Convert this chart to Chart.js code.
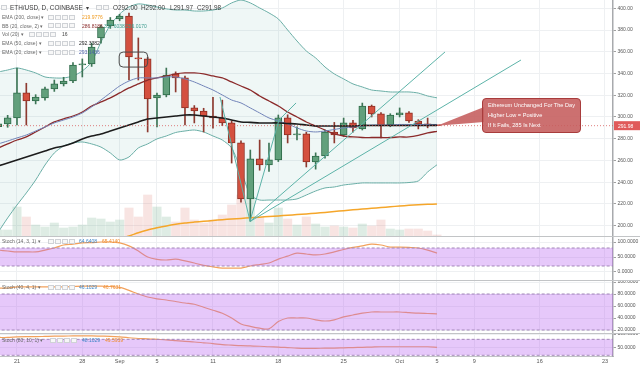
<!DOCTYPE html>
<html>
<head>
<meta charset="utf-8">
<title>ETH/USD, D, COINBASE</title>
<script src="https://cdn.jsdelivr.net/npm/chart.js@4.4.1/dist/chart.umd.min.js"></script>
<style>
  html, body { margin: 0; padding: 0; background: #fff; }
  #wrap { position: relative; width: 640px; height: 366px; overflow: hidden;
          font-family: "Liberation Sans", Arial, sans-serif; }
  #wrap canvas { position: absolute; left: 0; }
  .sep { position: absolute; left: 0; width: 640px; height: 1px; background: #c2c4c6; }
  .t { position: absolute; white-space: nowrap; font-size: 5px; line-height: 6px; color: #6b6b6b; }
  .h { font-size: 6.4px; line-height: 7px; color: #3c3c3c; }
  .b { position: absolute; width: 6px; height: 5px; box-sizing: border-box; border: 1px solid #cfd2d6; background: #f7f7f7; }
  #note { position: absolute; left: 482px; top: 98px; width: 99px; height: 35px; box-sizing: border-box;
          background: rgba(197, 92, 92, 0.88); border: 1px solid #a83c3c; border-radius: 4px;
          color: #fff; font-size: 5.6px; line-height: 10px; padding: 1px 0 0 5px; white-space: nowrap; }
</style>
</head>
<body>
<div id="wrap">
  <canvas id="cMain" width="640" height="236" style="top:0"></canvas>
  <div class="sep" style="top:236px"></div>
  <canvas id="cSt1" width="640" height="43" style="top:237px"></canvas>
  <div class="sep" style="top:280px"></div>
  <canvas id="cSt2" width="640" height="52" style="top:281px"></canvas>
  <div class="sep" style="top:333px"></div>
  <canvas id="cSt3" width="640" height="32" style="top:334px"></canvas>

  <!-- header -->
  <div class="b" style="left:1px;top:5px"></div>
  <div class="t h" style="left:10px;top:4px">ETH/USD, D, COINBASE</div>
  <div class="t h" style="left:86px;top:4px">▾</div>
  <div class="b" style="left:96px;top:5px"></div>
  <div class="b" style="left:103px;top:5px"></div>
  <div class="t h" style="left:113px;top:4px">O292.00</div>
  <div class="t h" style="left:141px;top:4px">H292.00</div>
  <div class="t h" style="left:170px;top:4px">L291.97</div>
  <div class="t h" style="left:197px;top:4px">C291.98</div>

  <div class="t" style="left:2px;top:14px">EMA (200, close) ▾</div>
  <div class="b" style="left:48px;top:14.5px"></div><div class="b" style="left:55px;top:14.5px"></div><div class="b" style="left:62px;top:14.5px"></div><div class="b" style="left:69px;top:14.5px"></div>
  <div class="t" style="left:82px;top:14px;color:#f09a1e">219.9776</div>

  <div class="t" style="left:2px;top:22.5px">BB (20, close, 2) ▾</div>
  <div class="b" style="left:48px;top:23px"></div><div class="b" style="left:55px;top:23px"></div><div class="b" style="left:62px;top:23px"></div><div class="b" style="left:69px;top:23px"></div>
  <div class="t" style="left:82px;top:22.5px;color:#8b2c2c">286.8186</div>
  <div class="t" style="left:104px;top:22.5px;color:#3a9a8c">317.6038</div>
  <div class="t" style="left:126px;top:22.5px;color:#3a9a8c">256.0170</div>

  <div class="t" style="left:2px;top:31px">Vol (20) ▾</div>
  <div class="b" style="left:29px;top:31.5px"></div><div class="b" style="left:36px;top:31.5px"></div><div class="b" style="left:43px;top:31.5px"></div><div class="b" style="left:50px;top:31.5px"></div>
  <div class="t" style="left:62px;top:31px;color:#444">16</div>

  <div class="t" style="left:2px;top:40px">EMA (50, close) ▾</div>
  <div class="b" style="left:48px;top:40.5px"></div><div class="b" style="left:55px;top:40.5px"></div><div class="b" style="left:62px;top:40.5px"></div><div class="b" style="left:69px;top:40.5px"></div>
  <div class="t" style="left:79px;top:40px;color:#222">292.3382</div>

  <div class="t" style="left:2px;top:49px">EMA (20, close) ▾</div>
  <div class="b" style="left:48px;top:49.5px"></div><div class="b" style="left:55px;top:49.5px"></div><div class="b" style="left:62px;top:49.5px"></div><div class="b" style="left:69px;top:49.5px"></div>
  <div class="t" style="left:79px;top:49px;color:#4a5fa8">293.1436</div>

  <!-- stoch legends -->
  <div class="t" style="left:2px;top:238px">Stoch (14, 3, 1) ▾</div>
  <div class="b" style="left:48px;top:238.5px"></div><div class="b" style="left:55px;top:238.5px"></div><div class="b" style="left:62px;top:238.5px"></div><div class="b" style="left:69px;top:238.5px"></div>
  <div class="t" style="left:79px;top:238px;color:#3d85c6">64.6408</div>
  <div class="t" style="left:102px;top:238px;color:#f08c2c">65.4140</div>

  <div class="t" style="left:2px;top:284px">Stoch (40, 4, 1) ▾</div>
  <div class="b" style="left:48px;top:284.5px"></div><div class="b" style="left:55px;top:284.5px"></div><div class="b" style="left:62px;top:284.5px"></div><div class="b" style="left:69px;top:284.5px"></div>
  <div class="t" style="left:79px;top:284px;color:#3d85c6">46.1029</div>
  <div class="t" style="left:103px;top:284px;color:#f08c2c">46.7631</div>

  <div class="t" style="left:2px;top:337px">Stoch (80, 10, 1) ▾</div>
  <div class="b" style="left:50px;top:337.5px"></div><div class="b" style="left:57px;top:337.5px"></div><div class="b" style="left:64px;top:337.5px"></div><div class="b" style="left:71px;top:337.5px"></div>
  <div class="t" style="left:82px;top:337px;color:#3d85c6">48.1029</div>
  <div class="t" style="left:105px;top:337px;color:#f08c2c">49.5939</div>

  <div id="note">Ethereum Unchanged For The Day<br>Higher Low = Positive<br>If It Fails, 285 Is Next</div>
</div>

<script>
// daily candles, 2017-08-19 .. 2017-10-05
const dates = ['Aug 19','Aug 20','Aug 21','Aug 22','Aug 23','Aug 24','Aug 25','Aug 26','Aug 27','Aug 28',
  'Aug 29','Aug 30','Aug 31','Sep 1','Sep 2','Sep 3','Sep 4','Sep 5','Sep 6','Sep 7',
  'Sep 8','Sep 9','Sep 10','Sep 11','Sep 12','Sep 13','Sep 14','Sep 15','Sep 16','Sep 17',
  'Sep 18','Sep 19','Sep 20','Sep 21','Sep 22','Sep 23','Sep 24','Sep 25','Sep 26','Sep 27',
  'Sep 28','Sep 29','Sep 30','Oct 1','Oct 2','Oct 3','Oct 4','Oct 5'];

const open = [291.0,293.6,299.1,322.1,314.7,317.5,325.8,330.4,333.1,347.8,348.8,372.7,383.7,390.2,392.9,354.3,
  353.4,317.5,320.2,339.6,335.9,308.3,305.5,300.9,299.1,294.5,276.1,224.5,261.4,255.9,260.5,299.1,
  283.4,284.4,258.6,264.1,286.2,283.4,294.5,289.0,310.1,302.8,292.6,301.8,303.7,296.3,293.6,292.00];
const high = [296.0,301.5,345.0,331.0,320.5,327.5,334.0,336.5,350.0,353.4,368.0,384.5,391.5,394.5,395.5,372.7,
  355.0,322.0,345.0,341.5,337.5,310.5,308.0,318.0,315.5,296.5,278.0,269.6,278.8,276.0,301.8,302.0,
  291.0,286.0,267.0,288.0,295.0,299.0,297.0,312.8,311.0,304.0,303.0,308.3,305.0,297.5,299.0,292.00];
const low = [287.5,290.5,292.6,292.6,312.0,315.5,323.5,328.5,331.5,336.8,346.5,368.0,381.5,388.5,334.0,334.0,
  286.2,290.8,318.5,323.0,292.6,294.5,286.2,289.8,292.0,257.6,221.7,204.0,251.0,250.0,259.0,276.1,
  279.0,254.0,252.0,262.0,276.1,282.0,286.0,288.0,300.0,280.7,291.0,300.0,295.0,289.0,290.0,291.97];
const close = [293.6,299.1,322.1,314.7,318.4,325.8,330.4,333.1,347.8,348.8,364.4,382.8,389.2,392.9,355.2,353.4,
  316.6,320.2,338.6,335.9,308.3,305.5,300.9,299.1,294.5,276.1,224.5,261.4,255.9,260.5,299.1,283.4,
  284.4,258.6,264.1,286.2,283.4,294.5,289.9,310.1,302.8,291.7,301.8,303.7,296.3,293.6,292.0,291.98];
const volume = [60,60,290,190,110,90,130,80,90,110,180,170,140,160,280,190,410,290,190,140,280,160,130,160,
  210,310,410,390,190,130,280,170,110,190,120,90,100,90,80,120,100,160,70,60,70,70,50,10];

const bbUpper = [341.4,343.2,345.1,343.2,340.5,336.8,335.9,335.9,337.7,342.3,350.6,369.0,384.6,394.7,401.2,404.0,
  403.0,401.2,399.4,398.4,398.4,397.5,397.5,398.4,400.3,404.9,407.6,404.9,400.3,395.7,390.2,380.0,
  369.9,360.7,354.3,346.0,339.6,335.0,330.4,327.6,324.8,323.9,323.0,323.0,323.0,322.0,319.3,317.6];
const bbBasis = [271.5,275.2,278.8,281.6,286.2,290.8,295.4,298.2,300.9,304.6,310.1,313.8,317.5,322.1,326.7,330.4,
  334.0,335.9,337.7,339.6,340.5,340.5,339.6,337.7,335.9,332.2,328.5,324.8,319.3,314.7,310.1,304.6,
  300.0,295.4,291.7,288.0,284.4,282.5,281.6,281.1,281.1,281.1,281.1,281.6,281.6,283.0,285.3,286.8];
const bbLower = [194.2,207.1,219.0,230.1,242.0,255.8,266.9,273.3,276.1,277.0,275.2,272.3,266.9,260.4,263.2,271.5,
  275.2,279.8,282.5,285.7,287.1,288.0,286.2,282.5,278.8,271.5,251.2,228.2,223.6,223.6,223.6,223.6,
  224.6,228.2,231.9,234.7,235.6,237.4,238.4,239.3,239.3,239.3,239.3,239.3,239.7,241.1,249.4,256.0];
const ema20 = [275.2,277.9,280.7,283.4,287.1,290.8,294.5,297.2,300.0,303.7,309.2,315.6,322.1,328.5,333.1,335.9,
  335.9,335.9,336.8,336.8,335.0,332.2,328.5,324.8,320.2,315.6,312.9,308.3,303.7,299.1,296.3,293.6,
  289.9,287.1,286.2,287.1,288.5,289.9,290.8,291.7,292.6,292.6,292.6,293.1,293.1,293.1,293.1,293.1];
const ema50 = [254.9,257.7,260.4,263.2,266.0,268.7,271.5,273.3,276.1,279.7,282.5,284.4,287.1,289.9,292.6,295.4,
  298.2,299.1,300.0,300.9,301.8,301.8,300.9,300.0,299.1,297.2,295.4,295.0,294.5,294.5,294.5,294.0,
  293.6,292.6,291.7,291.7,291.7,291.7,291.7,292.2,292.2,292.2,292.2,292.2,292.2,292.2,292.2,292.3];
const ema200 = [null,null,null,null,null,null,null,null,null,null,null,null,null,188.0,190.5,193.5,
  196.0,198.0,199.8,201.3,202.5,203.3,204.0,204.8,205.5,206.1,206.7,207.2,207.8,208.4,209.0,209.6,
  210.2,210.8,211.5,212.2,213.0,213.8,214.6,215.3,216.0,216.7,217.4,218.1,218.7,219.2,219.6,220.0];

const stoch14 = [73,70,67,67,67,73,80,90,93,97,98,100,100,97,87,70,50,42,40,43,37,30,22,17,
  13,13,13,20,25,30,43,53,63,60,57,60,67,75,82,87,93,90,83,83,82,80,73,63];
const stoch40 = [90,90,92,92,92,92,92,92,92.5,93,93,93,92.5,91,86,80,75,72,70,67.5,65,63,58,53,
  48,40,30,26,23,22,34,40,40,40,37,35,37,42,45,48,50,50,50,50,49,48,47.5,47];
const stoch80 = [87,87,89,90,90,91,92,92,93,93,93,92,91,89,86,83,82,80,78,75,72,70,67,64,
  60,58,56,55,54,52,51,49,47,46,46,47,47,48,49,50,51,52,52,52,52,52,52,50];
const bandHigh = 80, bandLow = 20;

// drawn trend lines: [day index, price]
const trendA = [[27, 204], [47.86, 359.8]];
const trendB = [[27, 204], [56.0, 352.4]];
const trendV = [[23.75, 318.4], [26.97, 204.3], [30.07, 297.2], [31.9, 312.9]];
const boxMark = { x0: 12.95, x1: 16.0, top: 359.7, bottom: 345.9 };

const tickDays = [2, 9, 13, 17, 23, 30, 37, 43, 47, 51, 58, 65];
const tickLabels = ['21', '28', 'Sep', '5', '11', '18', '25', 'Oct', '5', '9', '16', '23'];
const priceTicks = [200, 220, 240, 260, 280, 300, 320, 340, 360, 380, 400];

Chart.defaults.font.family = '"Liberation Sans", Arial, sans-serif';
Chart.defaults.color = '#555';
Chart.defaults.animation = false;
Chart.defaults.events = [];
Chart.defaults.plugins.legend.display = false;
Chart.defaults.plugins.tooltip.enabled = false;

const X_MIN = 0.18, X_MAX = 65.86;
const GRID = '#eef0f2';

const idx = dates.map((_, i) => i);
const pts = arr => arr.map((v, i) => ({ x: i, y: v }));
const pairPts = arr => arr.map(p => ({ x: p[0], y: p[1] }));
const isUp = i => close[i] >= open[i];

function noPad(s) {
    s.paddingTop = 0; s.paddingBottom = 0; s.paddingLeft = 0; s.paddingRight = 0;
}

function xScale(showLabels) {
    return {
        type: 'linear', min: X_MIN, max: X_MAX, offset: false,
        grid: { color: GRID, drawTicks: false, offset: false },
        border: { display: showLabels, color: '#c2c4c6' },
        ticks: {
            display: showLabels, autoSkip: false, maxRotation: 0, padding: 2,
            font: { size: 5.5 }, color: '#555',
            callback: v => { const k = tickDays.indexOf(v); return k < 0 ? '' : tickLabels[k]; }
        },
        afterBuildTicks: s => { s.ticks = tickDays.map(v => ({ value: v })); },
        afterFit: s => { s.height = showLabels ? 10 : 0; noPad(s); }
    };
}

function yScale(min, max, ticks, digits) {
    return {
        position: 'right', min: min, max: max,
        grid: { color: GRID, tickLength: 3, tickColor: '#a0a0a0' },
        border: { color: '#a8aaad', width: 1.5 },
        ticks: { autoSkip: false, padding: 1.5, font: { size: 5 }, color: '#555', callback: v => v.toFixed(digits) },
        afterBuildTicks: s => { s.ticks = ticks.map(v => ({ value: v })); },
        afterFit: s => { s.width = 27; noPad(s); }
    };
}

function lineSet(arr, color, width, order) {
    return { type: 'line', data: pts(arr), borderColor: color, borderWidth: width,
             pointRadius: 0, tension: 0.25, fill: false, order: order };
}

const noteFill = 'rgba(197, 92, 92, 0.88)';

const overlay = {
    id: 'overlay',
    afterDatasetsDraw(chart) {
        const { ctx, chartArea, scales } = chart;
        const x = scales.x, y = scales.y;
        const last = close.length - 1;
        const py = y.getPixelForValue(close[last]);
        ctx.save();
        // last price line
        ctx.strokeStyle = 'rgba(214, 84, 84, 0.75)';
        ctx.lineWidth = 1;
        ctx.setLineDash([1, 2]);
        ctx.beginPath();
        ctx.moveTo(chartArea.left, py);
        ctx.lineTo(chartArea.right, py);
        ctx.stroke();
        ctx.setLineDash([]);
        // rounded mark around the Sep 2-3 top
        const bx0 = x.getPixelForValue(boxMark.x0), bx1 = x.getPixelForValue(boxMark.x1);
        const by0 = y.getPixelForValue(boxMark.top), by1 = y.getPixelForValue(boxMark.bottom);
        ctx.strokeStyle = '#4a4a4a';
        ctx.lineWidth = 1;
        ctx.beginPath();
        ctx.roundRect(bx0, by0, bx1 - bx0, by1 - by0, 4);
        ctx.stroke();
        // callout tail to the last candle
        const ax = x.getPixelForValue(last);
        ctx.fillStyle = noteFill;
        ctx.beginPath();
        ctx.moveTo(ax, py);
        ctx.lineTo(484, 107);
        ctx.lineTo(484, 122);
        ctx.closePath();
        ctx.fill();
        ctx.restore();
    },
    afterDraw(chart) {
        const { ctx, chartArea, scales } = chart;
        const v = close[close.length - 1];
        const py = scales.y.getPixelForValue(v);
        ctx.save();
        ctx.fillStyle = '#e05a5a';
        ctx.fillRect(chartArea.right + 1, py - 4.5, 26, 9);
        ctx.fillStyle = '#fff';
        ctx.font = '5px "Liberation Sans", Arial, sans-serif';
        ctx.textBaseline = 'middle';
        ctx.fillText(v.toFixed(2), chartArea.right + 5, py + 0.5);
        ctx.restore();
    }
};

new Chart(document.getElementById('cMain'), {
    type: 'bar',
    data: {
        datasets: [
            { type: 'bar', yAxisID: 'yVol', grouped: false, order: 10, barThickness: 8.4,
              data: volume.map((v, i) => ({ x: i, y: v })),
              backgroundColor: idx.map(i => isUp(i) ? 'rgba(107,170,130,0.22)' : 'rgba(214,96,84,0.17)') },
            { type: 'line', data: pts(bbUpper), borderColor: '#6aaea6', borderWidth: 1, pointRadius: 0,
              tension: 0.25, fill: '+1', backgroundColor: 'rgba(96,178,170,0.1)', order: 9 },
            { type: 'line', data: pts(bbLower), borderColor: '#6aaea6', borderWidth: 1, pointRadius: 0,
              tension: 0.25, fill: false, order: 8 },
            lineSet(ema200, '#f5a62a', 1.5, 7),
            { type: 'bar', grouped: false, order: 6, barThickness: 1,
              data: idx.map(i => ({ x: i, y: [low[i], high[i]] })),
              backgroundColor: idx.map(i => isUp(i) ? '#3d7556' : '#8e3a30') },
            { type: 'bar', grouped: false, order: 5, barThickness: 7, minBarLength: 1,
              borderWidth: 1, borderSkipped: false,
              data: idx.map(i => ({ x: i, y: [open[i], close[i]] })),
              backgroundColor: idx.map(i => isUp(i) ? '#62a07c' : '#d4503f'),
              borderColor: idx.map(i => isUp(i) ? '#2f6b4a' : '#8f2f24') },
            lineSet(bbBasis, '#8b2a2a', 1.3, 4),
            lineSet(ema20, '#7183b8', 1, 3),
            lineSet(ema50, '#1c1c1c', 1.6, 2),
            { type: 'line', data: pairPts(trendA), borderColor: '#5cb3a8', borderWidth: 1, pointRadius: 0, fill: false, order: 1 },
            { type: 'line', data: pairPts(trendB), borderColor: '#5cb3a8', borderWidth: 1, pointRadius: 0, fill: false, order: 1 },
            { type: 'line', data: pairPts(trendV), borderColor: '#5cb3a8', borderWidth: 1, pointRadius: 0, fill: false, order: 1 }
        ]
    },
    options: {
        responsive: false,
        layout: { padding: 0 },
        scales: {
            x: xScale(false),
            y: yScale(190.5, 407.6, priceTicks, 2),
            yVol: { display: false, min: 0, max: 2360 }
        }
    },
    plugins: [overlay]
});

function stochChart(id, values, min, max, ticks, showX) {
    const top = [{ x: -5, y: bandHigh }, { x: 75, y: bandHigh }];
    const bottom = [{ x: -5, y: bandLow }, { x: 75, y: bandLow }];
    return new Chart(document.getElementById(id), {
        type: 'line',
        data: {
            datasets: [
                { data: pts(values), borderColor: '#f2a15c', borderWidth: 1.2, pointRadius: 0, tension: 0.3, fill: false, order: 3 },
                { data: top, borderColor: '#a286b8', borderDash: [3, 2], borderWidth: 1, pointRadius: 0,
                  fill: { value: bandLow }, backgroundColor: 'rgba(184,98,241,0.35)', order: 1 },
                { data: bottom, borderColor: '#a286b8', borderDash: [3, 2], borderWidth: 1, pointRadius: 0, fill: false, order: 0 }
            ]
        },
        options: {
            responsive: false,
            layout: { padding: 0 },
            scales: { x: xScale(showX), y: yScale(min, max, ticks, 4) }
        }
    });
}

stochChart('cSt1', stoch14, -26.7, 116.7, [0, 50, 100], false);
stochChart('cSt2', stoch40, 15, 101.7, [20, 40, 60, 80, 100], false);
stochChart('cSt3', stoch80, 17.3, 100, [50, 100], true);
</script>
</body>
</html>
